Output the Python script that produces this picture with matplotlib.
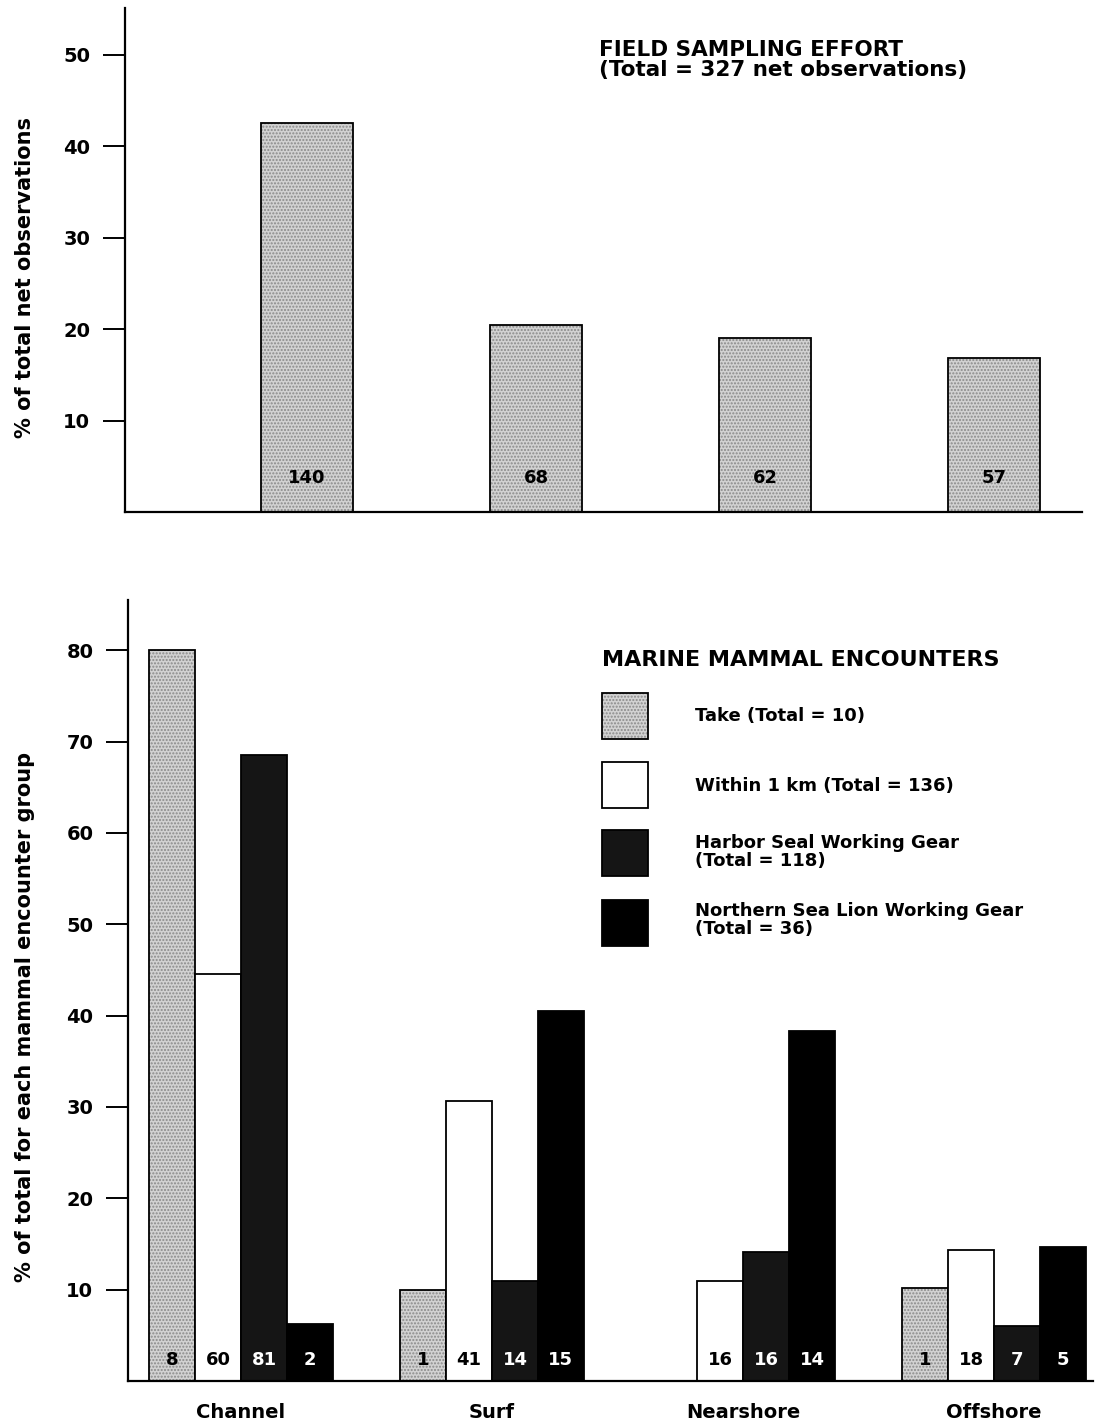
import matplotlib
matplotlib.use('Agg')
import matplotlib.pyplot as plt
from matplotlib.patches import Rectangle

plt.rcParams['font.family'] = 'DejaVu Sans'
plt.rcParams['font.weight'] = 'bold'
plt.rcParams['axes.labelweight'] = 'bold'

# Field sampling effort
habitats = ['Channel', 'Surf', 'Nearshore', 'Offshore']
effort_pct = [42.5, 20.4, 19.0, 16.8]
effort_n = [140, 68, 62, 57]

# Marine mammal encounters (% of each group's total)
groups = ['Take (Total = 10)', 'Within 1 km (Total = 136)',
          'Harbor Seal Working Gear\n(Total = 118)',
          'Northern Sea Lion Working Gear\n(Total = 36)']
take_pct = [80.0, 10.0, 0.0, 10.2]
within_pct = [44.6, 30.7, 10.9, 14.3]
harbor_pct = [68.5, 11.0, 14.1, 6.0]
sealion_pct = [6.2, 40.5, 38.3, 14.7]
take_n = [8, 1, None, 1]
within_n = [60, 41, 16, 18]
harbor_n = [81, 14, 16, 7]
sealion_n = [2, 15, 14, 5]

W, H = 1095, 1427
fig = plt.figure(figsize=(W / 100, H / 100), dpi=100)


def fbox(x0, y0, x1, y1):
    # pixel box -> figure fraction [left, bottom, width, height]
    return [x0 / W, 1 - y1 / H, (x1 - x0) / W, (y1 - y0) / H]


def style_axes(ax):
    for s in ['top', 'right']:
        ax.spines[s].set_visible(False)
    ax.spines['left'].set_linewidth(1.6)
    ax.spines['bottom'].set_linewidth(1.6)
    ax.tick_params(axis='y', direction='out', length=16, width=1.4,
                   labelsize=14, pad=9)
    ax.tick_params(axis='x', length=0)


stip_face = '#d2d2d2'
stip_dots = '#8a8a8a'

# ---- top panel ----
ax1 = fig.add_axes(fbox(125, 8, 1082, 512))
style_axes(ax1)
x1 = list(range(len(habitats)))
ax1.bar(x1, effort_pct, width=0.40, color=stip_face, edgecolor=stip_dots,
        hatch='.....', linewidth=0)
ax1.bar(x1, effort_pct, width=0.40, fill=False, edgecolor='black', linewidth=1.3)
for xi, n in zip(x1, effort_n):
    ax1.text(xi, 3.7, str(n), ha='center', va='center', fontsize=13)
ax1.set_xlim(-0.795, 3.384)
ax1.set_ylim(0, 55.1)
ax1.set_yticks([10, 20, 30, 40, 50])
ax1.set_xticks([])
ax1.set_ylabel('% of total net observations', fontsize=15)
ax1.yaxis.set_label_coords(-0.094, 0.466)
ax1.text(1.277, 49.4, 'FIELD SAMPLING EFFORT\n(Total = 327 net observations)',
         ha='left', va='center', fontsize=15.5, linespacing=1.0)

# ---- bottom panel ----
ax2 = fig.add_axes(fbox(128, 600, 1093, 1381))
style_axes(ax2)
bw = 0.183
x2 = list(range(len(habitats)))
series = [
    (take_pct, take_n, 'stipple', 'black'),
    (within_pct, within_n, 'white', 'black'),
    (harbor_pct, harbor_n, '#151515', 'white'),
    (sealion_pct, sealion_n, 'black', 'white'),
]
for k, (vals, counts, face, tcol) in enumerate(series):
    xs = [xi + (k - 1.5) * bw for xi in x2]
    if face == 'stipple':
        ax2.bar(xs, vals, width=bw, color=stip_face, edgecolor=stip_dots,
                hatch='.....', linewidth=0)
        ax2.bar(xs, vals, width=bw, fill=False, edgecolor='black', linewidth=1.3)
    else:
        ax2.bar(xs, vals, width=bw, color=face, edgecolor='black', linewidth=1.3)
    for xi, v, n in zip(xs, vals, counts):
        if n is not None and v > 0:
            ax2.text(xi, 2.3, str(n), ha='center', va='center',
                     fontsize=13, color=tcol)
ax2.set_xlim(-0.450, 3.394)
ax2.set_ylim(0, 85.5)
ax2.set_yticks([10, 20, 30, 40, 50, 60, 70, 80])
ax2.set_xticks(x2)
ax2.set_xticklabels(habitats, fontsize=14)
ax2.tick_params(axis='x', pad=16)
ax2.set_ylabel('% of total for each mammal encounter group', fontsize=15)
ax2.yaxis.set_label_coords(-0.0964, 0.466)

# ---- legend ----
fig.text(602 / W, 1 - 660 / H, 'MARINE MAMMAL ENCOUNTERS', ha='left',
         va='center', fontsize=16)
swatch_y = [693, 762, 830, 900]
text_y = [716, 786, 852, 920]
swatch_style = ['stipple', 'white', '#151515', 'black']
for label, sy, ty, face in zip(groups, swatch_y, text_y, swatch_style):
    b = fbox(602, sy, 648, sy + 46)
    if face == 'stipple':
        fig.add_artist(Rectangle((b[0], b[1]), b[2], b[3], transform=fig.transFigure,
                                 facecolor=stip_face, edgecolor=stip_dots,
                                 hatch='.....', linewidth=0))
        fig.add_artist(Rectangle((b[0], b[1]), b[2], b[3], transform=fig.transFigure,
                                 fill=False, edgecolor='black', linewidth=1.3))
    else:
        fig.add_artist(Rectangle((b[0], b[1]), b[2], b[3], transform=fig.transFigure,
                                 facecolor=face, edgecolor='black', linewidth=1.3))
    fig.text(695 / W, 1 - ty / H, label, ha='left', va='center',
             fontsize=13, linespacing=1.0)

fig.savefig('out.png', dpi=100, facecolor='white')
